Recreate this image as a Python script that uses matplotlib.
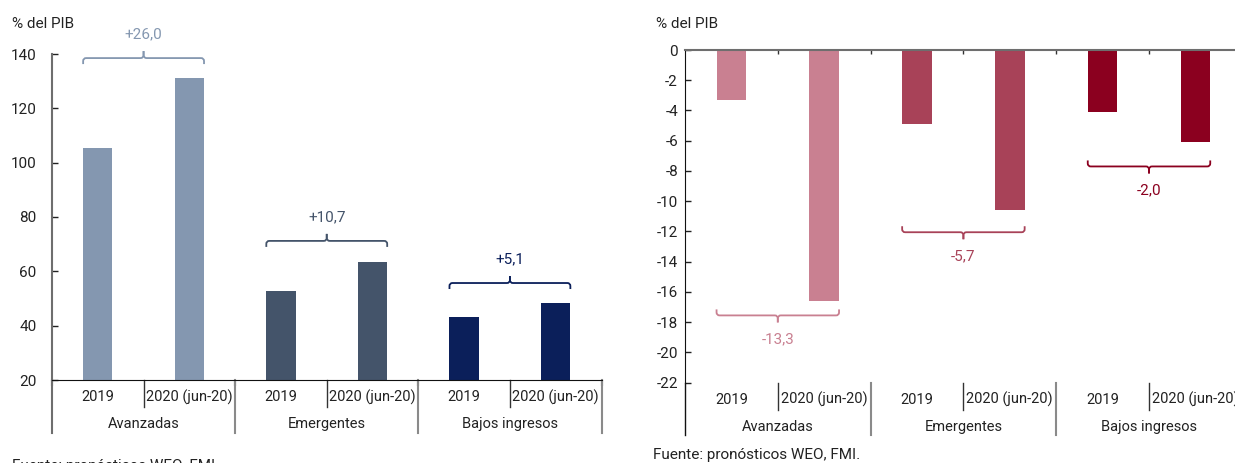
import matplotlib
matplotlib.use("Agg")
import matplotlib.pyplot as plt
import matplotlib.transforms as mtransforms
from matplotlib.path import Path
from matplotlib.patches import PathPatch

plt.rcParams['font.family'] = ['Roboto', 'DejaVu Sans']
plt.rcParams['axes.unicode_minus'] = False

# ---- data -------------------------------------------------------------
groups = ["Avanzadas", "Emergentes", "Bajos ingresos"]
periods = ["2019", "2020 (jun-20)"]

# Deuda pública (% del PIB)
deuda_2019 = [105.3, 52.6, 43.3]
deuda_2020 = [131.3, 63.3, 48.4]
deuda_colors = ["#8497B0", "#44546A", "#0B1F5A"]
deuda_bracket_y = [138.5, 71.2, 55.7]
deuda_yticks = [20, 40, 60, 80, 100, 120, 140]

# Saldo fiscal (% del PIB)
saldo_2019 = [-3.3, -4.9, -4.1]
saldo_2020 = [-16.6, -10.6, -6.1]
saldo_colors = ["#C98091", "#A84258", "#8B001F"]
saldo_bracket_y = [-17.55, -12.05, -7.7]
saldo_yticks = [0, -2, -4, -6, -8, -10, -12, -14, -16, -18, -20, -22]

unidad = "% del PIB"
fuente = "Fuente: pronósticos WEO, FMI."

# ---- figure -----------------------------------------------------------
W, H = 1235, 463
fig = plt.figure(figsize=(W / 100, H / 100), dpi=100)


def px_axes(l, t, r, b):
    return fig.add_axes([l / W, 1 - b / H, (r - l) / W, (b - t) / H])


ax1 = px_axes(52, 54, 601.5, 380)
ax2 = px_axes(685, 50, 1241.8, 382.7)

BAR_W = 0.32


def fmt_change(v):
    s = f"{v:+.1f}"
    return s.replace(".", ",")


def draw_bracket(ax, x0, x1, y, sign, color, label):
    """Curly bracket spanning x0..x1 at height y; sign=+1 nib up, -1 nib down."""
    (xa, xb), (ya, yb) = ax.get_xlim(), ax.get_ylim()
    ux = (xb - xa) / ax.bbox.width
    uy = (yb - ya) / ax.bbox.height
    arm = 6 * uy * sign
    nib = 7 * uy * sign
    rx, ry = 3 * ux, 3 * uy * sign
    xm = (x0 + x1) / 2
    codes = [Path.MOVETO, Path.LINETO, Path.CURVE3, Path.CURVE3,
             Path.LINETO, Path.CURVE3, Path.CURVE3, Path.LINETO]
    for xe, d in ((x0, 1), (x1, -1)):
        verts = [(xe, y - arm), (xe, y - ry), (xe, y), (xe + d * rx, y),
                 (xm - d * rx, y), (xm, y), (xm, y + ry), (xm, y + nib)]
        ax.add_patch(PathPatch(Path(verts, codes), fill=False, edgecolor=color,
                               lw=1.3, clip_on=False, capstyle='butt'))
    ax.annotate(label, (xm, y), xytext=(0, 24 * 0.72 * sign),
                textcoords="offset points", ha="center", va="center",
                color=color, fontsize=11, annotation_clip=False)


def draw_panel(ax, v2019, v2020, colors, bracket_y, sign, ylim, yticks, ypad):
    ax.set_xlim(-0.5, 5.5)
    ax.set_ylim(*ylim)
    for g in range(len(groups)):
        x0, x1 = 2 * g, 2 * g + 1
        ax.bar([x0, x1], [v2019[g], v2020[g]], width=BAR_W, color=colors[g],
               zorder=2)
        draw_bracket(ax, x0 - BAR_W / 2, x1 + BAR_W / 2, bracket_y[g], sign,
                     colors[g], fmt_change(v2020[g] - v2019[g]))

    ax.set_yticks(yticks)
    ax.set_yticklabels([str(t) for t in yticks])
    ax.tick_params(axis="y", direction="in", length=4, width=1,
                   labelsize=11, pad=ypad, colors="#222222")
    for s in ("top", "right"):
        ax.spines[s].set_visible(False)

    # category / group labels under the plot area
    trans = mtransforms.blended_transform_factory(ax.transData, ax.transAxes)
    hpx = ax.bbox.height
    for g, name in enumerate(groups):
        for p, per in enumerate(periods):
            ax.text(2 * g + p, -17 / hpx, per, transform=trans, ha="center",
                    va="center", fontsize=10.5, color="#222222")
        ax.text(2 * g + 0.5, -44 / hpx, name, transform=trans, ha="center",
                va="center", fontsize=10.5, color="#222222")
        ax.plot([2 * g + 0.5] * 2, [0, -27 / hpx], transform=trans,
                color="#333333", lw=1, clip_on=False)
    return trans, hpx


# left panel: deuda
trans1, h1 = draw_panel(ax1, deuda_2019, deuda_2020, deuda_colors,
                        deuda_bracket_y, 1, (20, 140), deuda_yticks, 11)
ax1.spines["left"].set_color("#6e6e6e")
ax1.spines["left"].set_linewidth(1.5)
ax1.spines["bottom"].set_color("#111111")
ax1.set_xticks([-0.5, 1.5, 3.5, 5.5])
ax1.set_xticklabels([])
ax1.tick_params(axis="x", direction="out", length=4, width=1.5,
                colors="#111111")
for xb, c in ((-0.5, "#6e6e6e"), (1.5, "#8a8a8a"), (3.5, "#8a8a8a"),
              (5.5, "#8a8a8a")):
    ax1.plot([xb, xb], [0, -53 / h1], transform=trans1, color=c, lw=1.5,
             clip_on=False)

# right panel: saldo
trans2, h2 = draw_panel(ax2, saldo_2019, saldo_2020, saldo_colors,
                        saldo_bracket_y, -1, (-22, 0), saldo_yticks, 5)
ax2.spines["bottom"].set_position(("data", 0))
ax2.spines["bottom"].set_color("#6e6e6e")
ax2.spines["bottom"].set_linewidth(1.5)
ax2.spines["bottom"].set_zorder(3)
ax2.spines["left"].set_color("#111111")
ax2.set_xticks([0.5, 1.5, 2.5, 3.5, 4.5])
ax2.set_xticklabels([])
ax2.tick_params(axis="x", direction="out", length=3, width=1,
                colors="#333333")
ax2.plot([-0.5, -0.5], [0, -52 / h2], transform=trans2, color="#111111",
         lw=1, clip_on=False)
for xb in (1.5, 3.5):
    ax2.plot([xb, xb], [0, -52 / h2], transform=trans2, color="#8a8a8a",
             lw=1.5, clip_on=False)

# titles and source notes
fig.text(12 / W, 1 - 24 / H, unidad, ha="left", va="center", fontsize=11,
         color="#222222")
fig.text(656 / W, 1 - 24 / H, unidad, ha="left", va="center", fontsize=11,
         color="#222222")
fig.text(12 / W, 1 - 466 / H, fuente, ha="left", va="center", fontsize=11,
         color="#222222")
fig.text(653 / W, 1 - 455 / H, fuente, ha="left", va="center", fontsize=11,
         color="#222222")

fig.savefig("out.png", dpi=100)
